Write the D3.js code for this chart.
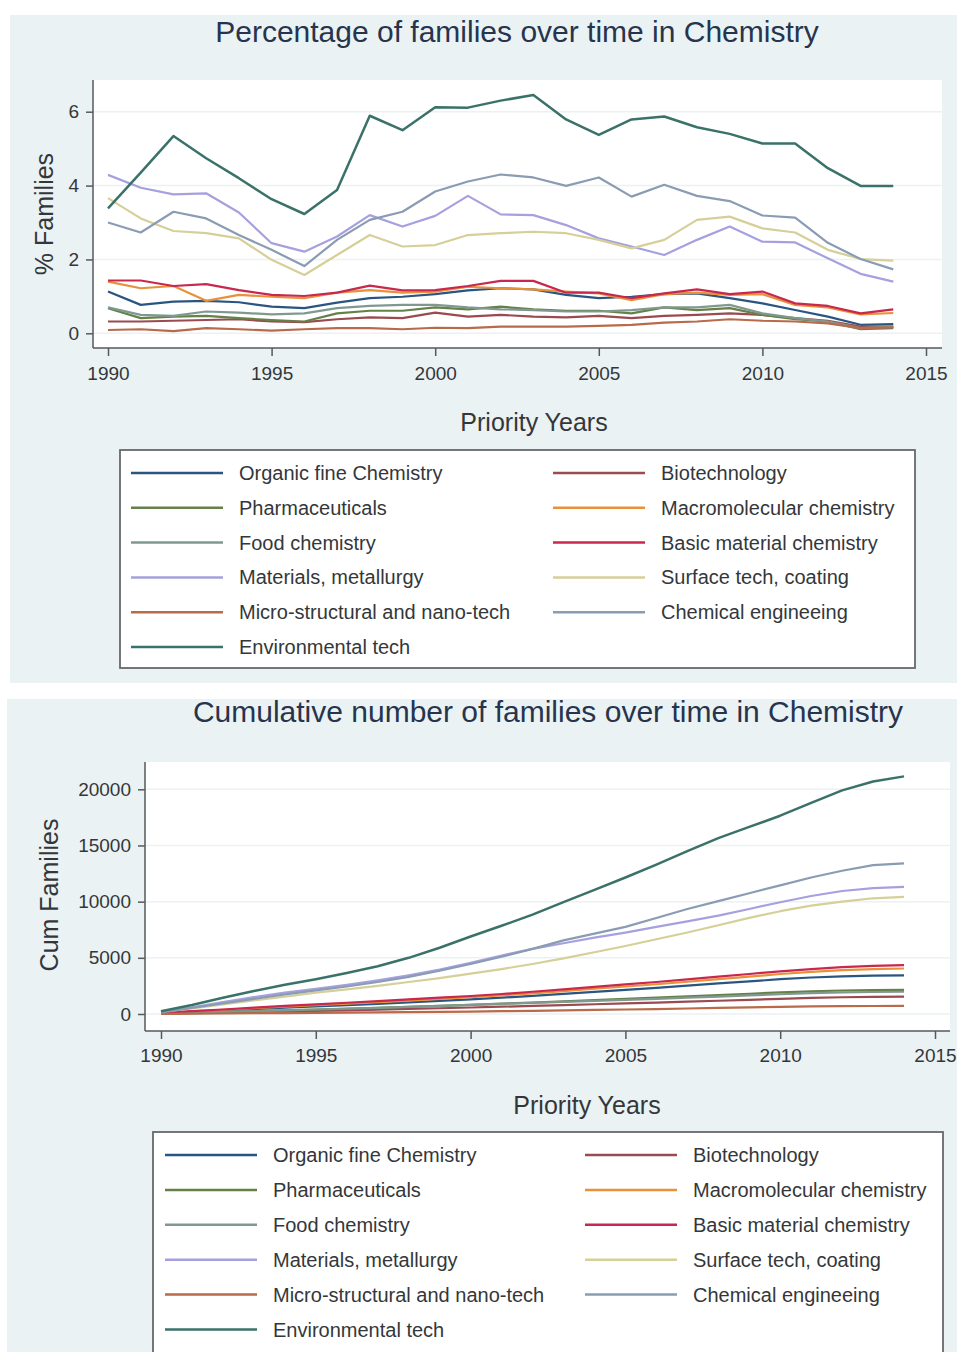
<!DOCTYPE html>
<html>
<head>
<meta charset="utf-8">
<script src="https://cdn.jsdelivr.net/npm/d3@7"></script>
<style>
  html, body { margin: 0; padding: 0; background: #ffffff; }
  svg { display: block; font-family: "Liberation Sans", Arial, Helvetica, sans-serif; }
</style>
</head>
<body>
<svg id="chart" width="957" height="1352"></svg>
<script>
// Priority years shared by both panels
const years = [1990, 1991, 1992, 1993, 1994, 1995, 1996, 1997, 1998, 1999, 2000, 2001, 2002,
               2003, 2004, 2005, 2006, 2007, 2008, 2009, 2010, 2011, 2012, 2013, 2014];

// Technology fields, in plotting / legend order
const fields = ["Organic fine Chemistry", "Biotechnology", "Pharmaceuticals", "Macromolecular chemistry",
                "Food chemistry", "Basic material chemistry", "Materials, metallurgy", "Surface tech, coating",
                "Micro-structural and nano-tech", "Chemical engineeing", "Environmental tech"];

// Line colours per field
const fieldColors = ["#2a5580", "#9a4a50", "#66804a", "#e8913a", "#80998f", "#c8284e",
                     "#a6a0de", "#d6cf98", "#b86a4a", "#8a9cb3", "#3a7269"];

// Percentage of families per year
const pctOrganic   = [1.13,0.77,0.86,0.88,0.84,0.72,0.68,0.83,0.95,0.99,1.06,1.16,1.22,1.19,1.04,0.95,0.99,1.06,1.08,0.95,0.81,0.63,0.45,0.23,0.25];
const pctBiotech   = [0.32,0.32,0.34,0.36,0.38,0.32,0.30,0.38,0.43,0.41,0.56,0.45,0.50,0.45,0.43,0.47,0.41,0.47,0.50,0.54,0.50,0.41,0.34,0.18,0.18];
const pctPharma    = [0.68,0.41,0.45,0.47,0.41,0.36,0.32,0.54,0.61,0.61,0.70,0.65,0.72,0.65,0.61,0.61,0.54,0.70,0.63,0.68,0.50,0.38,0.32,0.11,0.14];
const pctMacro     = [1.40,1.22,1.28,0.88,1.04,0.99,0.95,1.10,1.17,1.10,1.13,1.26,1.22,1.19,1.13,1.08,0.90,1.06,1.10,1.04,1.06,0.77,0.70,0.51,0.55];
const pctFood      = [0.70,0.50,0.47,0.59,0.56,0.51,0.54,0.68,0.74,0.77,0.77,0.70,0.65,0.63,0.59,0.59,0.63,0.70,0.70,0.77,0.54,0.41,0.32,0.14,0.18];
const pctBasic     = [1.43,1.43,1.28,1.33,1.17,1.04,1.01,1.10,1.29,1.16,1.17,1.28,1.42,1.42,1.10,1.10,0.95,1.08,1.19,1.06,1.13,0.81,0.74,0.54,0.65];
const pctMaterials = [4.29,3.94,3.76,3.79,3.27,2.44,2.21,2.62,3.20,2.89,3.18,3.72,3.22,3.20,2.93,2.57,2.35,2.12,2.53,2.89,2.48,2.46,2.03,1.61,1.40];
const pctSurface   = [3.66,3.11,2.77,2.71,2.57,1.99,1.58,2.12,2.66,2.35,2.39,2.66,2.71,2.75,2.71,2.53,2.30,2.53,3.07,3.16,2.84,2.73,2.26,2.01,1.97];
const pctMicro     = [0.09,0.11,0.06,0.14,0.11,0.07,0.11,0.14,0.14,0.11,0.15,0.14,0.18,0.18,0.18,0.20,0.23,0.29,0.32,0.38,0.34,0.32,0.27,0.14,0.16];
const pctChemEng   = [3.00,2.73,3.29,3.11,2.66,2.26,1.82,2.53,3.07,3.29,3.84,4.11,4.30,4.22,3.99,4.22,3.70,4.02,3.72,3.58,3.19,3.13,2.45,2.01,1.73];
const pctEnv       = [3.38,4.35,5.34,4.74,4.20,3.63,3.23,3.88,5.89,5.50,6.12,6.11,6.30,6.45,5.79,5.37,5.79,5.87,5.58,5.40,5.14,5.14,4.47,3.99,3.99];

// Cumulative number of families per year
const cumOrganic   = [80,200,320,440,560,670,780,900,1030,1160,1300,1450,1620,1790,1970,2150,2330,2520,2720,2900,3100,3250,3350,3410,3430];
const cumBiotech   = [30,80,130,180,230,280,330,390,450,510,580,650,720,790,870,940,1020,1100,1180,1260,1350,1430,1490,1520,1540];
const cumPharma    = [50,120,190,260,330,400,460,540,630,720,820,920,1020,1120,1230,1340,1450,1560,1680,1800,1920,2020,2090,2120,2140];
const cumMacro     = [100,230,370,510,650,780,910,1050,1190,1340,1490,1660,1840,2040,2250,2450,2650,2870,3100,3330,3560,3750,3900,4000,4050];
const cumFood      = [50,120,190,260,330,400,470,550,630,720,810,900,990,1080,1170,1260,1350,1450,1550,1650,1760,1860,1930,1960,1980];
const cumBasic     = [100,250,400,570,720,860,1000,1140,1300,1450,1600,1780,1980,2200,2420,2640,2850,3080,3320,3560,3800,4000,4170,4280,4350];
const cumMaterials = [200,600,1050,1500,1900,2250,2600,3000,3450,3950,4550,5200,5800,6300,6800,7250,7750,8250,8750,9350,9950,10500,10950,11200,11320];
const cumSurface   = [200,500,850,1200,1550,1900,2200,2500,2850,3200,3600,4000,4450,4950,5500,6050,6650,7250,7900,8550,9150,9650,10000,10300,10420];
const cumMicro     = [10,30,45,65,85,100,120,145,170,195,220,250,285,320,360,400,440,490,540,590,640,680,700,710,715];
const cumChemEng   = [150,550,950,1350,1750,2100,2450,2850,3300,3850,4450,5100,5800,6550,7150,7750,8550,9350,10050,10750,11450,12150,12750,13250,13400];
const cumEnv       = [250,800,1450,2050,2600,3100,3650,4250,5000,5900,6900,7850,8850,9950,11050,12150,13300,14500,15650,16650,17650,18800,19900,20700,21150];

// Axis ticks
const xTicks = [1990, 1995, 2000, 2005, 2010, 2015];
const pctTicks = [0, 2, 4, 6];
const cumTicks = [0, 5000, 10000, 15000, 20000];

const pctSeries = [pctOrganic, pctBiotech, pctPharma, pctMacro, pctFood, pctBasic,
                   pctMaterials, pctSurface, pctMicro, pctChemEng, pctEnv];
const cumSeries = [cumOrganic, cumBiotech, cumPharma, cumMacro, cumFood, cumBasic,
                   cumMaterials, cumSurface, cumMicro, cumChemEng, cumEnv];

const svg = d3.select("#chart");
const BG = "#eaf2f3";
const AXIS = "#55595d";
const TEXT = "#34373a";
const FONT = "'Liberation Sans', Arial, sans-serif";

function drawPanel(cfg, seriesValues) {
  const g = svg.append("g");

  // panel background
  g.append("rect").attr("x", cfg.panel[0]).attr("y", cfg.panel[1])
    .attr("width", cfg.panel[2]).attr("height", cfg.panel[3]).attr("fill", BG);

  // title
  g.append("text").attr("x", cfg.titleX).attr("y", cfg.titleY)
    .attr("text-anchor", "middle").attr("font-size", 30).attr("fill", "#27344d")
    .text(cfg.title);

  const [px, py, pw, ph] = cfg.plot;
  g.append("rect").attr("x", px).attr("y", py).attr("width", pw).attr("height", ph).attr("fill", "#ffffff");

  const x = d3.scaleLinear().domain([1990, 2015]).range(cfg.xRange);
  const y = d3.scaleLinear().domain(cfg.yDomain).range(cfg.yRange);

  // horizontal grid
  g.append("g").selectAll("line").data(cfg.yTicks).join("line")
    .attr("x1", px).attr("x2", px + pw)
    .attr("y1", d => y(d)).attr("y2", d => y(d))
    .attr("stroke", BG).attr("stroke-width", 1.5);

  // series lines
  const line = d3.line().x((d, i) => x(years[i])).y(d => y(d));
  g.append("g").selectAll("path").data(seriesValues).join("path")
    .attr("d", d => line(d))
    .attr("fill", "none")
    .attr("stroke", (d, i) => fieldColors[i])
    .attr("stroke-width", (d, i) => i === 10 ? 2.5 : 2.2)
    .attr("stroke-linejoin", "round");

  // y axis
  const yAxis = g.append("g").attr("transform", `translate(${px},0)`)
    .call(d3.axisLeft(y).tickValues(cfg.yTicks).tickSize(7).tickPadding(cfg.yPad).tickFormat(d3.format("d")));
  yAxis.select(".domain").remove();
  yAxis.selectAll(".tick line").attr("stroke", AXIS).attr("stroke-width", 1.5);
  yAxis.selectAll(".tick text").attr("font-size", 19).attr("fill", TEXT).attr("font-family", FONT);

  // x axis
  const xAxis = g.append("g").attr("transform", `translate(0,${py + ph})`)
    .call(d3.axisBottom(x).tickValues(xTicks).tickSize(8).tickPadding(cfg.xPad).tickFormat(d3.format("d")));
  xAxis.select(".domain").remove();
  xAxis.selectAll(".tick line").attr("stroke", AXIS).attr("stroke-width", 1.5);
  xAxis.selectAll(".tick text").attr("font-size", 19).attr("fill", TEXT).attr("font-family", FONT);

  // axis lines
  g.append("line").attr("x1", px).attr("x2", px).attr("y1", py).attr("y2", py + ph)
    .attr("stroke", AXIS).attr("stroke-width", 1.5);
  g.append("line").attr("x1", px).attr("x2", px + pw).attr("y1", py + ph).attr("y2", py + ph)
    .attr("stroke", AXIS).attr("stroke-width", 1.5);

  // axis titles
  g.append("text").attr("transform", `translate(${cfg.yTitle[0]},${cfg.yTitle[1]}) rotate(-90)`)
    .attr("text-anchor", "middle").attr("font-size", 25).attr("fill", TEXT).text(cfg.yLabel);
  g.append("text").attr("x", cfg.xTitle[0]).attr("y", cfg.xTitle[1])
    .attr("text-anchor", "middle").attr("font-size", 25).attr("fill", TEXT).text("Priority Years");

  // legend
  const [lx, ly, lw, lh] = cfg.legend;
  g.append("rect").attr("x", lx).attr("y", ly).attr("width", lw).attr("height", lh)
    .attr("fill", "#ffffff").attr("stroke", "#65696d").attr("stroke-width", 1.8);
  const items = g.append("g").selectAll("g").data(fields).join("g")
    .attr("transform", (d, i) => {
      const col = i % 2, row = Math.floor(i / 2);
      return `translate(${cfg.legendCols[col]},${cfg.legendRow0 + row * cfg.legendStep})`;
    });
  items.append("line").attr("x1", 0).attr("x2", 92).attr("y1", 0).attr("y2", 0)
    .attr("stroke", (d, i) => fieldColors[i]).attr("stroke-width", 2.5);
  items.append("text").attr("x", 108).attr("y", 0).attr("dy", "0.35em")
    .attr("font-size", 20).attr("fill", TEXT).text(d => d);
}

drawPanel({
  panel: [10, 15, 947, 668],
  title: "Percentage of families over time in Chemistry",
  titleX: 517, titleY: 42,
  plot: [93, 80, 849, 268],
  xRange: [108, 926],
  yDomain: [0, 6], yRange: [333.3, 111.7],
  yTicks: pctTicks,
  yPad: 7, xPad: 11,
  yLabel: "% Families",
  yTitle: [53, 214],
  xTitle: [534, 431],
  legend: [120, 450, 795, 218],
  legendCols: [131, 553],
  legendRow0: 473, legendStep: 34.8
}, pctSeries);

drawPanel({
  panel: [7, 699, 950, 653],
  title: "Cumulative number of families over time in Chemistry",
  titleX: 548, titleY: 722,
  plot: [145, 762, 805, 269],
  xRange: [161, 935],
  yDomain: [0, 20000], yRange: [1014, 789.3],
  yTicks: cumTicks,
  yPad: 7, xPad: 10,
  yLabel: "Cum Families",
  yTitle: [58, 895],
  xTitle: [587, 1114],
  legend: [153, 1132, 790, 240],
  legendCols: [165, 585],
  legendRow0: 1155, legendStep: 34.9
}, cumSeries);
</script>
</body>
</html>
